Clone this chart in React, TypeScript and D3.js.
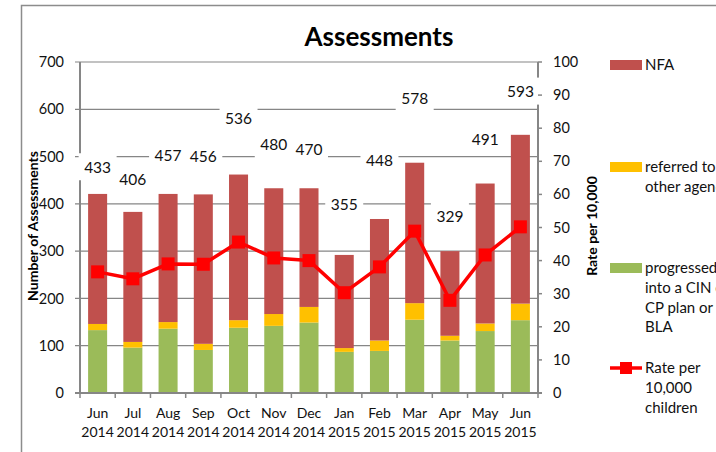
import { useEffect, useRef } from 'react'
import * as d3 from 'd3'

const MONTHS = ['Jun 2014', 'Jul 2014', 'Aug 2014', 'Sep 2014', 'Oct 2014', 'Nov 2014', 'Dec 2014',
  'Jan 2015', 'Feb 2015', 'Mar 2015', 'Apr 2015', 'May 2015', 'Jun 2015']
const PROGRESSED = [133, 96, 136, 91, 138, 142, 149, 87, 89, 155, 111, 131, 154]
const REFERRED = [13, 12, 14, 13, 16, 25, 33, 8, 22, 35, 10, 16, 35]
const NFA = [275, 275, 271, 316, 308, 266, 251, 197, 257, 297, 179, 296, 357]
const TOTAL_LABELS = [433, 406, 457, 456, 536, 480, 470, 355, 448, 578, 329, 491, 593]
const RATE = [36.6, 34.5, 39.0, 38.9, 45.6, 40.8, 40.0, 30.3, 38.1, 48.9, 28.0, 41.7, 50.2]
const LEFT_TICKS = [0, 100, 200, 300, 400, 500, 600, 700]
const RIGHT_TICKS = [0, 10, 20, 30, 40, 50, 60, 70, 80, 90, 100]

const FONT = 'Lato, "Open Sans", sans-serif'
const C = { nfa: '#C0504D', ref: '#FFC000', prog: '#9BBB59', rate: '#FF0000', grid: '#868686', text: '#111' }

export default function App() {
  const svgRef = useRef<SVGSVGElement>(null)

  useEffect(() => {
    const svg = d3.select(svgRef.current)
    svg.selectAll('*').remove()
    const L = 80, R = 538, T = 62, B = 393

    const x = d3.scaleBand<string>().domain(MONTHS).range([L, R]).paddingInner(0.46).paddingOuter(0.23)
    const yL = d3.scaleLinear().domain([0, 700]).range([B, T])
    const yR = d3.scaleLinear().domain([0, 100]).range([B, T])
    const cx = (m: string) => (x(m) ?? 0) + x.bandwidth() / 2

    // outer frame (runs off the picture on the right and bottom)
    svg.append('rect').attr('x', 21.5).attr('y', 5.5).attr('width', 760).attr('height', 500)
      .attr('fill', 'white').attr('stroke', '#8c8c8c').attr('stroke-width', 1.5)

    svg.append('text').attr('x', 379).attr('y', 37).attr('dy', '0.35em').attr('text-anchor', 'middle')
      .attr('font-family', FONT).attr('font-weight', 700).attr('font-size', 26).attr('fill', '#000')
      .text('Assessments')

    // gridlines
    svg.append('g').selectAll('line').data(LEFT_TICKS.slice(1)).join('line')
      .attr('x1', L - 5).attr('x2', R).attr('y1', (d) => yL(d)).attr('y2', (d) => yL(d))
      .attr('stroke', C.grid).attr('stroke-width', 1.2)

    // stacked bars
    const rows = MONTHS.map((m, i) => ({ m, prog: PROGRESSED[i], ref: REFERRED[i], nfa: NFA[i] }))
    const stack = d3.stack<(typeof rows)[number]>().keys(['prog', 'ref', 'nfa'])(rows as never)
    const colors: Record<string, string> = { prog: C.prog, ref: C.ref, nfa: C.nfa }
    svg.append('g').selectAll('g').data(stack).join('g').attr('fill', (s) => colors[s.key])
      .selectAll('rect').data((s) => s).join('rect')
      .attr('x', (d) => x(d.data.m) ?? 0).attr('width', x.bandwidth())
      .attr('y', (d) => yL(d[1])).attr('height', (d) => yL(d[0]) - yL(d[1]))

    // axes
    const ax = svg.append('g').attr('stroke', C.grid).attr('stroke-width', 2)
    ax.append('line').attr('x1', L).attr('x2', L).attr('y1', T).attr('y2', B)
    ax.append('line').attr('x1', R).attr('x2', R).attr('y1', T).attr('y2', B)
    ax.append('line').attr('x1', L - 5).attr('x2', R + 4).attr('y1', B).attr('y2', B)
    ax.selectAll('line.xt').data(d3.range(MONTHS.length + 1)).join('line').attr('class', 'xt')
      .attr('x1', (i) => L + i * x.step()).attr('x2', (i) => L + i * x.step())
      .attr('y1', B).attr('y2', B + 5).attr('stroke-width', 1.5)

    svg.append('g').selectAll('text').data(LEFT_TICKS).join('text')
      .attr('x', 64).attr('y', (d) => yL(d)).attr('dy', '0.35em').attr('text-anchor', 'end')
      .attr('font-family', FONT).attr('font-size', 14.5).attr('fill', C.text).text((d) => d)

    const xl = svg.append('g').selectAll('text').data(MONTHS).join('text')
      .attr('x', (d) => cx(d)).attr('text-anchor', 'middle')
      .attr('font-family', FONT).attr('font-size', 14).attr('fill', C.text)
    xl.append('tspan').attr('x', (d) => cx(d)).attr('y', 418).text((d) => d.split(' ')[0])
    xl.append('tspan').attr('x', (d) => cx(d)).attr('y', 437).text((d) => d.split(' ')[1])

    svg.append('text').attr('transform', 'translate(33,226) rotate(-90)').attr('dy', '0.35em')
      .attr('text-anchor', 'middle').attr('font-family', FONT).attr('font-weight', 700)
      .attr('font-size', 14).attr('fill', '#000').text('Number of Assessments')
    svg.append('text').attr('transform', 'translate(592,226) rotate(-90)').attr('dy', '0.35em')
      .attr('text-anchor', 'middle').attr('font-family', FONT).attr('font-weight', 700)
      .attr('font-size', 14).attr('fill', '#000').text('Rate per 10,000')

    // rate line
    const line = d3.line<number>().x((_d, i) => cx(MONTHS[i])).y((d) => yR(d))
    svg.append('path').datum(RATE).attr('d', line).attr('fill', 'none')
      .attr('stroke', C.rate).attr('stroke-width', 3.5).attr('stroke-linejoin', 'round')
    svg.append('g').selectAll('rect').data(RATE).join('rect')
      .attr('x', (_d, i) => cx(MONTHS[i]) - 6.5).attr('y', (d) => yR(d) - 6.5)
      .attr('width', 13).attr('height', 13).attr('fill', C.rate)

    // total labels with white boxes
    const lab = svg.append('g').selectAll('g').data(TOTAL_LABELS).join('g')
      .attr('transform', (d, i) => `translate(${cx(MONTHS[i])},${yL(d) - 21})`)
    lab.append('rect').attr('x', -19).attr('y', -14).attr('width', 38).attr('height', 27).attr('fill', 'white')
    lab.append('text').attr('dy', '0.35em').attr('text-anchor', 'middle').attr('font-family', FONT)
      .attr('font-size', 15.5).attr('fill', C.text).text((d) => d)

    // right axis ticks + labels (drawn after boxes so the tick marks show)
    svg.append('g').selectAll('line').data(RIGHT_TICKS).join('line')
      .attr('x1', R).attr('x2', R + 4).attr('y1', (d) => yR(d)).attr('y2', (d) => yR(d))
      .attr('stroke', C.grid).attr('stroke-width', 1.5)
    svg.append('g').selectAll('text').data(RIGHT_TICKS).join('text')
      .attr('x', 553).attr('y', (d) => yR(d)).attr('dy', '0.35em')
      .attr('font-family', FONT).attr('font-size', 14.5).attr('fill', C.text).text((d) => d)

    // legend
    const legend = [
      { key: 'nfa', y: 65, lines: ['NFA'] },
      { key: 'ref', y: 167, lines: ['referred to', 'other agencies'] },
      { key: 'prog', y: 268, lines: ['progressed', 'into a CIN or', 'CP plan or', 'BLA'] },
      { key: 'rate', y: 368, lines: ['Rate per', '10,000', 'children'] },
    ]
    const lg = svg.append('g').selectAll('g').data(legend).join('g')
      .attr('transform', (d) => `translate(610,${d.y})`)
    lg.filter((d) => d.key !== 'rate').append('rect').attr('x', 0).attr('y', -5).attr('width', 32).attr('height', 10)
      .attr('fill', (d) => colors[d.key])
    const lr = lg.filter((d) => d.key === 'rate')
    lr.append('line').attr('x1', 0).attr('x2', 32).attr('stroke', C.rate).attr('stroke-width', 3.5)
    lr.append('rect').attr('x', 10).attr('y', -6).attr('width', 12).attr('height', 12).attr('fill', C.rate)
    lg.append('text').attr('font-family', FONT).attr('font-size', 15).attr('fill', C.text)
      .selectAll('tspan').data((d) => d.lines).join('tspan')
      .attr('x', 35).attr('y', (_d, i) => i * 19.7).attr('dy', '0.35em').text((d) => d)
  }, [])

  return (
    <div style={{ position: 'absolute', left: 0, top: 0, width: 716, height: 452, overflow: 'hidden', background: 'white' }}>
      <svg ref={svgRef} width={716} height={452} style={{ display: 'block' }} />
    </div>
  )
}
